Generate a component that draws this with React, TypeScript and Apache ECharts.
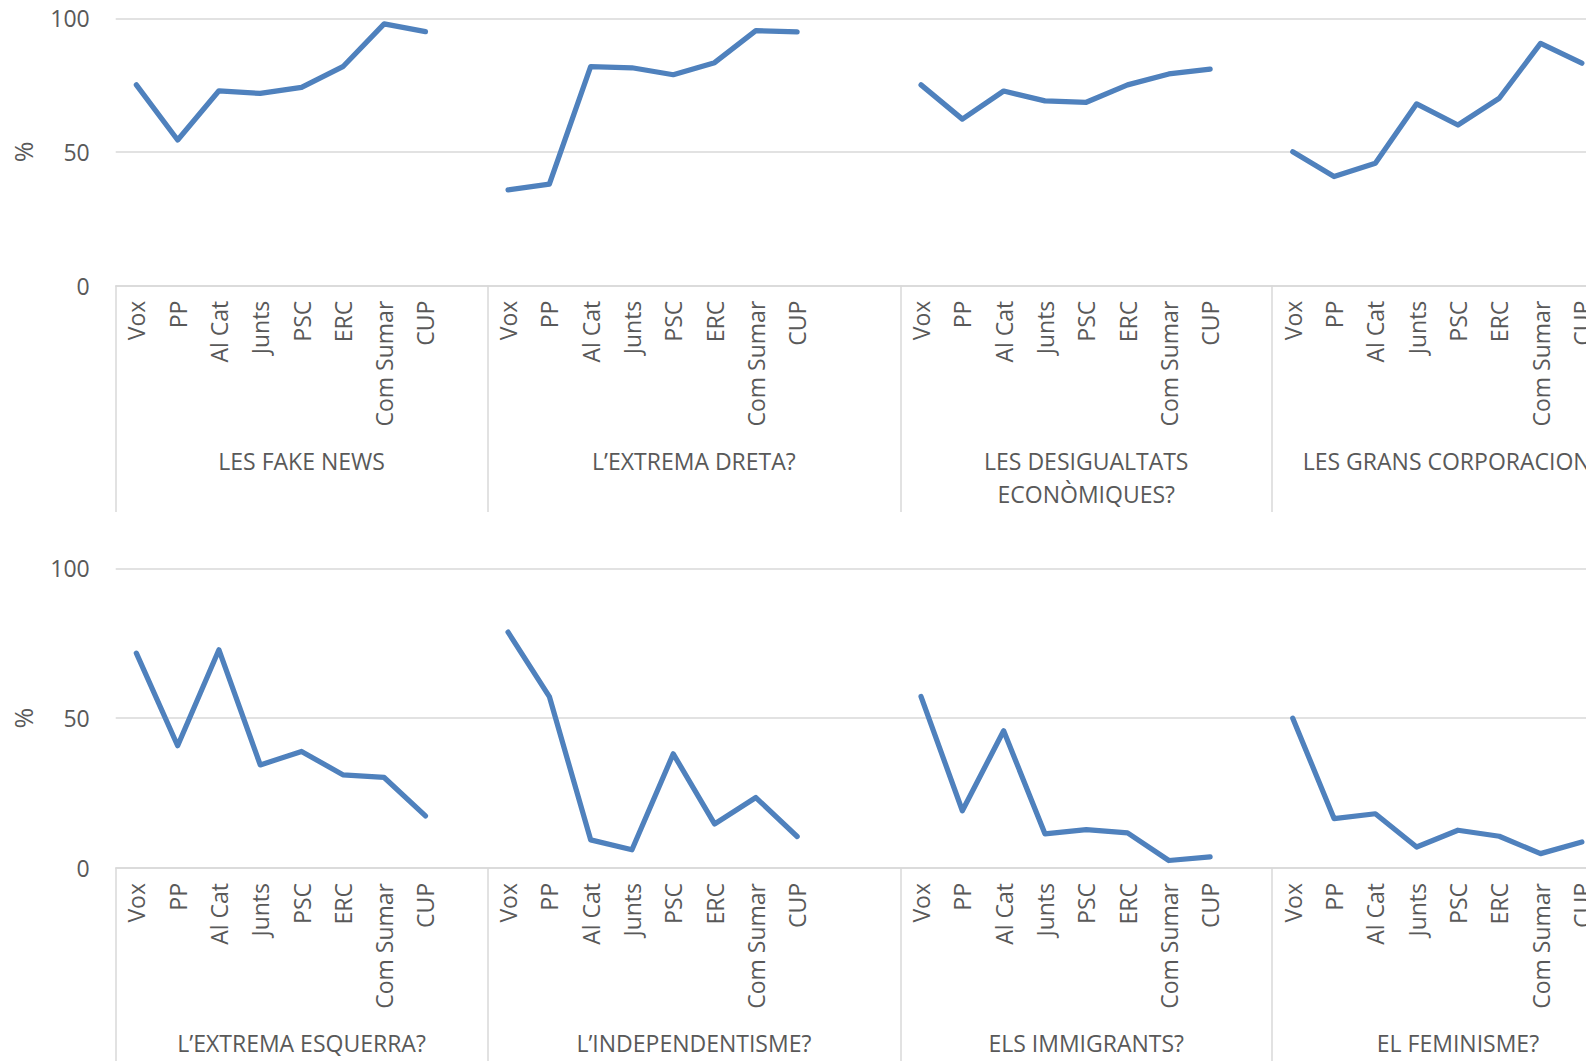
import React, { useEffect, useRef } from "react";
import * as echarts from "echarts";

// ---- data ----
const parties = ["Vox", "PP", "Al Cat", "Junts", "PSC", "ERC", "Com Sumar", "CUP"];
const topGroups = ["LES FAKE NEWS", "L’EXTREMA DRETA?", "LES DESIGUALTATS\nECONÒMIQUES?", "LES GRANS CORPORACIONS?"];
const bottomGroups = ["L’EXTREMA ESQUERRA?", "L’INDEPENDENTISME?", "ELS IMMIGRANTS?", "EL FEMINISME?"];
const groupBlankSlots = [1, 2, 1, 1];
const yTicks = [0, 50, 100];

const fakeNews = [75.1, 54.5, 72.9, 71.9, 74.2, 81.9, 97.9, 95.0];
const extremaDreta = [35.8, 38.0, 81.9, 81.5, 78.9, 83.4, 95.4, 94.9];
const desigualtats = [75.1, 62.3, 72.8, 69.1, 68.6, 75.1, 79.2, 81.0];
const corporacions = [50.1, 40.8, 45.8, 68.0, 60.1, 70.1, 90.6, 83.2];

const extremaEsquerra = [71.7, 40.8, 72.8, 34.4, 38.9, 31.1, 30.2, 17.4];
const independentisme = [78.7, 57.2, 9.4, 6.1, 38.1, 14.7, 23.5, 10.5];
const immigrants = [57.2, 19.1, 45.8, 11.4, 12.8, 11.7, 2.5, 3.7];
const feminisme = [50.0, 16.5, 18.1, 7.0, 12.6, 10.6, 4.8, 8.7];

const topValues = [fakeNews, extremaDreta, desigualtats, corporacions];
const bottomValues = [extremaEsquerra, independentisme, immigrants, feminisme];

// ---- layout / style ----
const FONT = "'Open Sans', sans-serif";
const TEXT = "#595959";
const GRID_LINE = "#d9d9d9";
const LINE = "#4f81bd";
const LEFT = 115.7;
const BAND = 41.3;
const FS = 23;

function buildCategories(): string[] {
  const cats: string[] = [];
  groupBlankSlots.forEach((b) => {
    parties.forEach((p) => cats.push(p));
    for (let i = 0; i < b; i++) cats.push("");
  });
  return cats;
}
function buildSeries(groups: number[][]): (number | null)[] {
  const out: (number | null)[] = [];
  groups.forEach((g, gi) => {
    g.forEach((v) => out.push(v));
    for (let i = 0; i < groupBlankSlots[gi]; i++) out.push(null);
  });
  return out;
}
function groupStarts(): number[] {
  const starts: number[] = [];
  let s = 0;
  groupBlankSlots.forEach((b) => {
    starts.push(s);
    s += parties.length + b;
  });
  return starts;
}

export default function App() {
  const ref = useRef<HTMLDivElement>(null);
  useEffect(() => {
    const chart = echarts.init(ref.current!, null, { renderer: "svg" });
    const cats = buildCategories();
    const starts = groupStarts();
    const width = cats.length * BAND;
    const grids = [
      { top: 18.3, height: 267.4, tickLen: 226.3, labelY: 461.3 },
      { top: 568.3, height: 299.7, tickLen: 200, labelY: 1042.6 },
    ];
    const graphic: any[] = [];
    [topGroups, bottomGroups].forEach((groups, pi) => {
      groups.forEach((name, gi) => {
        const len = parties.length + groupBlankSlots[gi];
        const cx = LEFT + (starts[gi] + len / 2) * BAND;
        graphic.push({
          type: "text",
          x: cx,
          y: grids[pi].labelY - 16.2,
          style: {
            text: name,
            fill: TEXT,
            fontSize: FS,
            fontFamily: FONT,
            align: "center",
            verticalAlign: "top",
            lineHeight: 32.4,
          },
        });
      });
    });
    const option: any = {
      animation: false,
      backgroundColor: "#ffffff",
      textStyle: { fontFamily: FONT },
      grid: grids.map((g) => ({
        left: LEFT,
        top: g.top,
        width,
        height: g.height,
        outerBoundsMode: "none",
      })),
      xAxis: grids.map((g, i) => ({
        type: "category",
        gridIndex: i,
        data: cats,
        boundaryGap: true,
        axisLine: { show: true, lineStyle: { color: GRID_LINE, width: 1.5 } },
        axisTick: {
          show: true,
          interval: (idx: number) => starts.indexOf(idx) >= 0,
          length: g.tickLen,
          lineStyle: { color: GRID_LINE, width: 1.5 },
        },
        axisLabel: {
          interval: 0,
          rotate: 90,
          margin: 15,
          color: TEXT,
          fontSize: FS,
          fontFamily: FONT,
          hideOverlap: false,
        },
        splitLine: { show: false },
      })),
      yAxis: grids.map((g, i) => ({
        type: "value",
        gridIndex: i,
        min: yTicks[0],
        max: yTicks[yTicks.length - 1],
        interval: yTicks[1] - yTicks[0],
        axisLine: { show: false },
        axisTick: { show: false },
        splitLine: { lineStyle: { color: GRID_LINE, width: 1.5 } },
        axisLabel: { color: TEXT, fontSize: FS, fontFamily: FONT, margin: 26 },
        name: "%",
        nameLocation: "middle",
        nameGap: 80,
        nameTextStyle: { color: TEXT, fontSize: 25, fontFamily: FONT },
      })),
      series: [topValues, bottomValues].map((vals, i) => ({
        type: "line",
        xAxisIndex: i,
        yAxisIndex: i,
        data: buildSeries(vals),
        showSymbol: false,
        symbol: "none",
        connectNulls: false,
        lineStyle: { color: LINE, width: 5.25, cap: "round", join: "round" },
        itemStyle: { color: LINE },
      })),
      graphic,
    };
    chart.setOption(option);
    return () => chart.dispose();
  }, []);
  return (
    <div
      style={{
        position: "fixed",
        left: 0,
        top: 0,
        width: 1586,
        height: 1061,
        overflow: "hidden",
        background: "#fff",
      }}
    >
      <div ref={ref} style={{ width: 1700, height: 1061 }} />
    </div>
  );
}
